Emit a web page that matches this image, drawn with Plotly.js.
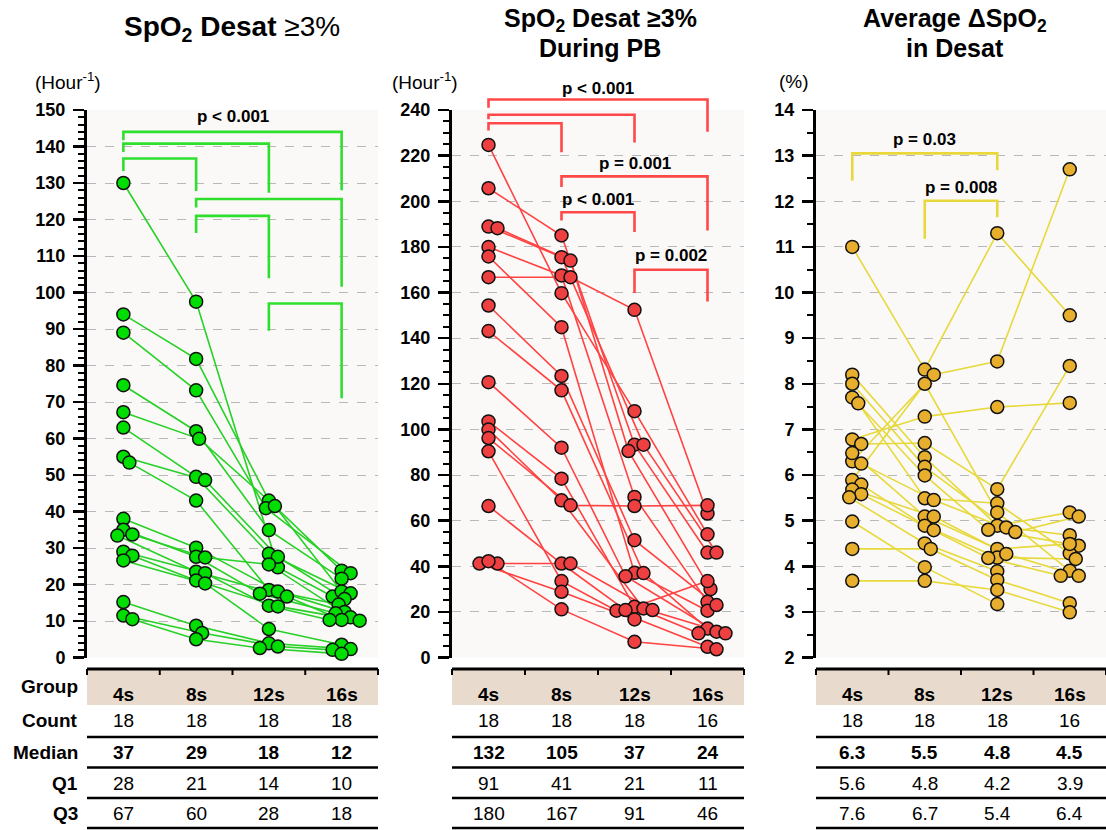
<!DOCTYPE html>
<html><head><meta charset="utf-8">
<script src="https://cdn.plot.ly/plotly-3.0.1.min.js"></script>
<style>html,body{margin:0;padding:0;background:#fff}</style>
</head><body><div id="chart" style="width:1106px;height:830px"></div>
<script>
const groups = ['4s', '8s', '12s', '16s'];

// Panel 1: SpO2 Desat >=3% (per hour), one entry per subject
const desat_4s  = [130, 94, 89, 74.6, 67.2, 63, 55, 53.4, 38, 35, 33.7, 33.4, 29, 27.9, 26.6, 15.2, 11.5, 10.5];
const desat_8s  = [97.5, 81.8, 73.2, 62, 59.9, 49.5, 48.6, 43, 30.1, 27.6, 27.4, 23.5, 23.1, 21.1, 20.3, 8.7, 6.7, 5];
const desat_12s = [24.7, 43, 40.9, 34.9, 41.5, 28.4, 27.6, 18.5, 18.1, 17.5, 25.5, 16.7, 14.2, 14, 7.8, 3.9, 3, 2.6];
const desat_16s = [16.7, 23.8, 23.1, 21.6, 18.1, 17.6, 16, 14.5, 12.5, 12.1, 11, 10.3, 10.3, 10.1, 3.5, 2.3, 2.1, 1];

// Panel 2: SpO2 Desat >=3% during PB (per hour)
const pb_4s  = [224.7, 205.7, 188.9, 188.2, 179.9, 175.8, 166.7, 154.3, 143.1, 120.7, 103.5, 99.9, 96.2, 90.4, 66.4, 41.2, 41.2, 42.2];
const pb_8s  = [159.7, 185, 175.5, 174, 167.5, 144.8, 166.7, 123.4, 117.1, 92, 78.4, 68.9, 66.7, 33.5, 41.2, 41.2, 28.8, 21.1];
const pb_12s = [108, 93.3, 93.3, 90.5, 70.4, 37.1, 152.4, 51.4, 37, 35.6, 22.2, 21.5, 66.4, 20.5, 20.8, 20.8, 16.7, 6.9];
const pb_16s = [54, 46, 46, 30, 24.4, 20.5, 63.1, 23, 12.7, 11.3, 10.6, 10.6, 66.7, 4.7, 33.5, null, null, 3.6];

// Panel 3: Average delta SpO2 in desaturation (%)
const dsp_4s  = [11, 8.2, 8.0, 7.7, 7.57, 6.78, 6.68, 6.3, 6.48, 6.25, 5.89, 5.79, 5.68, 5.58, 5.51, 4.98, 4.38, 3.68];
const dsp_8s  = [8.31, 6.39, 6.18, 5.99, 5.49, 7.28, 6.7, 8.2, 5.09, 5.45, 8.0, 4.89, 5.09, 4.79, 4.5, 3.98, 4.38, 3.68];
const dsp_12s = [11.3, 4.89, 4.85, 4.8, 5.38, 7.49, 5.69, 8.49, 4.38, 4.75, 5.18, 4.19, 4.27, 4.18, 3.89, 3.17, 3.7, 3.48];
const dsp_16s = [9.5, 5.18, 4.68, 4.45, 4.28, 7.58, 8.39, 12.7, 4.49, 5.09, 3.9, 4.16, 3.79, 3.79, null, null, 3.19, 2.99];

// Summary tables
const rowLabels = ['Count', 'Median', 'Q1', 'Q3'];
const desat_count = [18, 18, 18, 18], desat_median = [37, 29, 18, 12], desat_q1 = [28, 21, 14, 10], desat_q3 = [67, 60, 28, 18];
const pb_count = [18, 18, 18, 16], pb_median = [132, 105, 37, 24], pb_q1 = [91, 41, 21, 11], pb_q3 = [180, 167, 91, 46];
const dsp_count = [18, 18, 18, 16], dsp_median = ['6.3', '5.5', '4.8', '4.5'], dsp_q1 = ['5.6', '4.8', '4.2', '3.9'], dsp_q3 = ['7.6', '6.7', '5.4', '6.4'];

// Significance brackets: [fromGroup, toGroup, barLevel, leftLegEnd, rightLegEnd]
const desat_brackets = [[0,3,144,141.7,128],[0,2,140.8,138.5,127.3],[0,1,136.7,133.3,127.8],[1,3,125.6,123.3,101.6],[1,2,121,116.3,103.9],[2,3,97,89.5,71]];
const desat_pvals = [['p < 0.001', 2.0, 148.1]];
const pb_brackets = [[0,3,244.6,241,230.5],[0,2,237.9,236,225.7],[0,1,234.2,231,221.5],[1,3,210.9,206.2,187.2],[1,2,195.2,191.6,186.5],[2,3,170,159.8,156.1]];
const pb_pvals = [['p < 0.001', 2.0, 249.4],['p = 0.001', 2.5, 216.4],['p < 0.001', 2.0, 200.8],['p = 0.002', 3.0, 176.2]];
const dsp_brackets = [[0,2,13.05,12.45,12.68],[1,2,12.01,11.18,11.65]];
const dsp_pvals = [['p = 0.03', 1.5, 13.36],['p = 0.008', 2.0, 12.3]];

// ---------------- layout helpers ----------------
const W = 1106, H = 830;
const px = x => x / W;
const py = y => 1 - y / H;
const FONT = 'Liberation Sans, Arial, Helvetica, sans-serif';
const YDOM = [py(657.5), py(110)];

const panels = [
  {n:'', xdom:[87,378], yr:[0,150], dtick:10, mdtick:2, cols:[desat_4s,desat_8s,desat_12s,desat_16s],
   line:'#27d127', fill:'#00dd00', br:'#2edf2e', brackets:desat_brackets, pvals:desat_pvals,
   table:[desat_count,desat_median,desat_q1,desat_q3], unit:'(Hour<sup>-1</sup>)', unitX:68,
   title:['<b>SpO<sub>2</sub> Desat </b>≥3%'], titleX:232, tsize:28},
  {n:'2', xdom:[452,744], yr:[0,240], dtick:20, mdtick:5, cols:[pb_4s,pb_8s,pb_12s,pb_16s],
   line:'#ff4242', fill:'#ee4040', br:'#ff4848', brackets:pb_brackets, pvals:pb_pvals,
   table:[pb_count,pb_median,pb_q1,pb_q3], unit:'(Hour<sup>-1</sup>)', unitX:425,
   title:['<b>SpO<sub>2</sub> Desat ≥3%</b>','<b>During PB</b>'], titleX:600, tsize:25},
  {n:'3', xdom:[816,1106], yr:[2,14], dtick:1, mdtick:0.5, cols:[dsp_4s,dsp_8s,dsp_12s,dsp_16s],
   line:'#e7d93c', fill:'#e8af2e', br:'#e8d83c', brackets:dsp_brackets, pvals:dsp_pvals,
   table:[dsp_count,dsp_median,dsp_q1,dsp_q3], unit:'(%)', unitX:794,
   title:['<b>Average ΔSpO<sub>2</sub></b>','<b>in Desat</b>'], titleX:955, tsize:25}
];

function dodge(vals, ppu, ppc) {
  const idx = vals.map((v,i)=>i).filter(i=>vals[i]!=null).sort((a,b)=>vals[b]-vals[a]);
  const placed = []; const off = vals.map(()=>0);
  const step = 3, minD = 8;
  idx.forEach(i => {
    const y = vals[i]*ppu;
    for (let k=0;k<40;k++){
      const dx = (k%2===1?1:-1)*Math.ceil(k/2)*step;
      if (placed.every(p => Math.hypot(p.x-dx, p.y-y) >= minD)) { placed.push({x:dx,y:y}); off[i]=dx/ppc; break; }
    }
  });
  return off;
}

const traces = [], shapes = [], annotations = [];
const layout = {
  width: W, height: H, margin:{l:0,r:0,t:0,b:0}, showlegend:false,
  paper_bgcolor:'#ffffff', plot_bgcolor:'#faf9f7', font:{family:FONT, color:'#000'}
};

panels.forEach(P => {
  const xa = 'x'+P.n, ya = 'y'+P.n;
  const ppc = (P.xdom[1]-P.xdom[0])/4;
  const ppu = 547.5/(P.yr[1]-P.yr[0]);
  layout['xaxis'+P.n] = {domain:[px(P.xdom[0]), px(P.xdom[1])], range:[0,4], visible:false, fixedrange:true, anchor:ya};
  layout['yaxis'+P.n] = {domain:YDOM, range:P.yr, anchor:xa, dtick:P.dtick, tick0:P.yr[0],
    showline:true, linecolor:'#000', linewidth:3, ticks:'outside', ticklen:11, tickwidth:2.5, tickcolor:'#000',
    ticklabelstandoff:4,
    tickfont:{family:FONT, size:18, color:'#000', weight:'bold'},
    showgrid:true, gridcolor:'#b8b8b8', griddash:'dash', gridwidth:1, zeroline:false,
    minor:{dtick:P.mdtick, ticks:'outside', ticklen:6, tickwidth:2, tickcolor:'#000', showgrid:false}};

  const offs = P.cols.map(c => dodge(c, ppu, ppc));
  const lx = [], ly = [], mx = [], my = [];
  const nSub = P.cols[0].length;
  for (let s=0; s<nSub; s++) {
    for (let g=0; g<4; g++) {
      const v = P.cols[g][s];
      if (v == null) continue;
      const x = g + 0.5 + offs[g][s];
      lx.push(x); ly.push(v); mx.push(x); my.push(v);
    }
    lx.push(null); ly.push(null);
  }
  traces.push({type:'scatter', mode:'lines', x:lx, y:ly, xaxis:xa, yaxis:ya, connectgaps:false,
    line:{color:P.line, width:1.6}, hoverinfo:'skip'});
  traces.push({type:'scatter', mode:'markers', x:mx, y:my, xaxis:xa, yaxis:ya, cliponaxis:false,
    marker:{size:13, color:P.fill, line:{color:'#111', width:1.5}}, hoverinfo:'skip'});

  const yf = v => (v - P.yr[0])/(P.yr[1]-P.yr[0]);
  P.brackets.forEach(b => {
    const x0 = (b[0]+0.5)/4, x1 = (b[1]+0.5)/4;
    shapes.push({type:'path', xref:xa+' domain', yref:ya+' domain',
      path:`M ${x0} ${yf(b[3])} L ${x0} ${yf(b[2])} L ${x1} ${yf(b[2])} L ${x1} ${yf(b[4])}`,
      line:{color:P.br, width:2.6}});
  });
  P.pvals.forEach(p => {
    annotations.push({xref:xa, yref:'paper', x:p[1], y:YDOM[0] + yf(p[2])*(YDOM[1]-YDOM[0]),
      text:'<b>'+p[0]+'</b>', showarrow:false, font:{family:FONT, size:17, color:'#000'}, xanchor:'center', yanchor:'middle'});
  });

  if (P.title.length === 1) {
    annotations.push({xref:'paper', yref:'paper', x:px(P.titleX), y:py(28), text:P.title[0], showarrow:false,
      font:{family:FONT, size:P.tsize, color:'#000'}, xanchor:'center', yanchor:'middle'});
  } else {
    P.title.forEach((t,i) => annotations.push({xref:'paper', yref:'paper', x:px(P.titleX), y:py(20+i*28), text:t, showarrow:false,
      font:{family:FONT, size:P.tsize, color:'#000'}, xanchor:'center', yanchor:'middle'}));
  }
  annotations.push({xref:'paper', yref:'paper', x:px(P.unitX), y:py(81), text:P.unit, showarrow:false,
    font:{family:FONT, size:19, color:'#000'}, xanchor:'center', yanchor:'middle'});

  const dx = xa+' domain';
  shapes.push({type:'rect', xref:dx, yref:'paper', x0:0, x1:1, y0:py(705), y1:py(669), fillcolor:'#e8dbcd', line:{width:0}, layer:'below'});
  shapes.push({type:'line', xref:dx, yref:'paper', x0:0, x1:1, y0:py(669), y1:py(669), line:{color:'#000', width:3}});
  [0,0.25,0.5,0.75,1].forEach(t => shapes.push({type:'line', xref:dx, yref:'paper', x0:t, x1:t, y0:py(669), y1:py(675), line:{color:'#000', width:2}}));
  [737, 767.5, 798, 828].forEach(yy => shapes.push({type:'line', xref:dx, yref:'paper', x0:0, x1:1, y0:py(yy), y1:py(yy), line:{color:'#000', width:2.5}}));
  groups.forEach((g,i) => annotations.push({xref:xa, yref:'paper', x:i+0.5, y:py(694), text:'<b>'+g+'</b>', showarrow:false,
    font:{family:FONT, size:19, color:'#000'}, xanchor:'center', yanchor:'middle'}));
  const rowY = [720.5, 752, 783, 813];
  P.table.forEach((row, r) => row.forEach((v,i) => annotations.push({xref:xa, yref:'paper', x:i+0.5, y:py(rowY[r]),
    text: r===1 ? '<b>'+v+'</b>' : String(v), showarrow:false, font:{family:FONT, size:19, color:'#000'}, xanchor:'center', yanchor:'middle'})));
  if (P.n === '') {
    ['Group'].concat(rowLabels).forEach((lab, r) => annotations.push({xref:'paper', yref:'paper', x:px(80),
      y:py(r===0 ? 686 : rowY[r-1]), text:'<b>'+lab+'</b>', showarrow:false, font:{family:FONT, size:19, color:'#000'}, xanchor:'right', yanchor:'middle'}));
  }
});

layout.shapes = shapes;
layout.annotations = annotations;
Plotly.newPlot('chart', traces, layout, {staticPlot:true, displayModeBar:false});
</script>
</body></html>
